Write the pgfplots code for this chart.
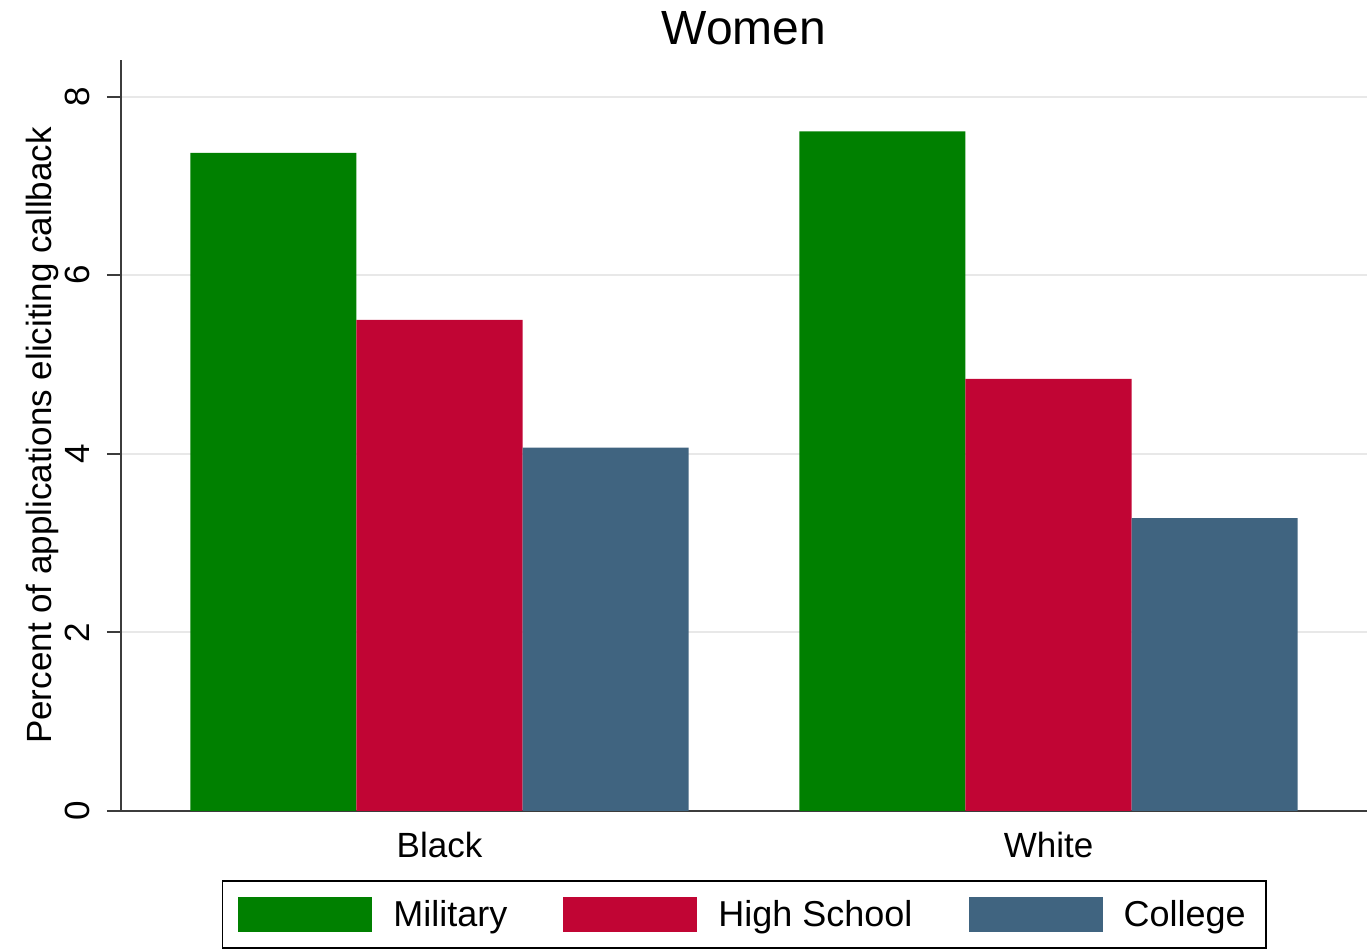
\documentclass[border=0pt]{standalone}
\usepackage{pgfplots}
\pgfplotsset{compat=1.18}
\usepackage{fontspec}
\setmainfont{Liberation Sans}
\definecolor{cmil}{RGB}{0,128,0}
\definecolor{chs}{RGB}{193,5,52}
\definecolor{ccol}{RGB}{64,100,128}
\definecolor{axc}{RGB}{60,60,60}
\begin{document}
\begin{tikzpicture}
\begin{axis}[
  scale only axis,
  width=623pt, height=375.5pt,
  xmin=-0.523, xmax=1.523,
  ymin=0, ymax=8.41,
  axis x line*=bottom, axis y line*=left,
  axis line style={axc, line width=0.9pt},
  ytick={0,2,4,6,8},
  xtick={0,1}, xticklabels={Black,White},
  x tick style={draw=none},
  y tick style={axc, line width=0.9pt},
  tick align=outside, major tick length=7pt,
  ymajorgrids, major grid style={gray!18, line width=0.9pt},
  /pgf/number format/assume math mode=true,
  ticklabel style={font=\fontsize{17.5}{20}\selectfont},
  yticklabel style={rotate=90, anchor=south, inner sep=2pt, yshift=6.5pt},
  xticklabel style={yshift=0pt},
  ylabel={Percent of applications eliciting callback},
  ylabel style={font=\fontsize{17.5}{20}\selectfont, yshift=-2.5pt},
  title={Women},
  title style={font=\fontsize{24}{28}\selectfont, inner sep=0pt, at={(0.5,1)}, anchor=base, yshift=1.5pt},
  ybar, bar shift=0pt, bar width=0.2726,
  legend columns=3,
  legend style={at={(0.5,-0.0919)}, anchor=north, draw=black, line width=0.9pt,
    font=\fontsize{18}{21}\selectfont, inner xsep=8pt, inner ysep=7.5pt,
    /tikz/every odd column/.append style={column sep=8.5pt},
    /tikz/every even column/.append style={column sep=26pt}},
  legend image code/.code={\fill[#1] (0pt,-8.75pt) rectangle (67pt,8.75pt);},
]
\addplot[fill=cmil, draw=none] coordinates {(-0.2726,7.37) (0.7274,7.61)};
\addlegendentry{Military}
\addplot[fill=chs, draw=none] coordinates {(0,5.50) (1,4.84)};
\addlegendentry{High School}
\addplot[fill=ccol, draw=none] coordinates {(0.2726,4.07) (1.2726,3.28)};
\addlegendentry{College}
\coordinate (O) at (rel axis cs:0,0);
\end{axis}
\path (O) ++(-60.5pt,-70.5pt) rectangle ++(685.5pt,476pt);
\end{tikzpicture}
\end{document}
